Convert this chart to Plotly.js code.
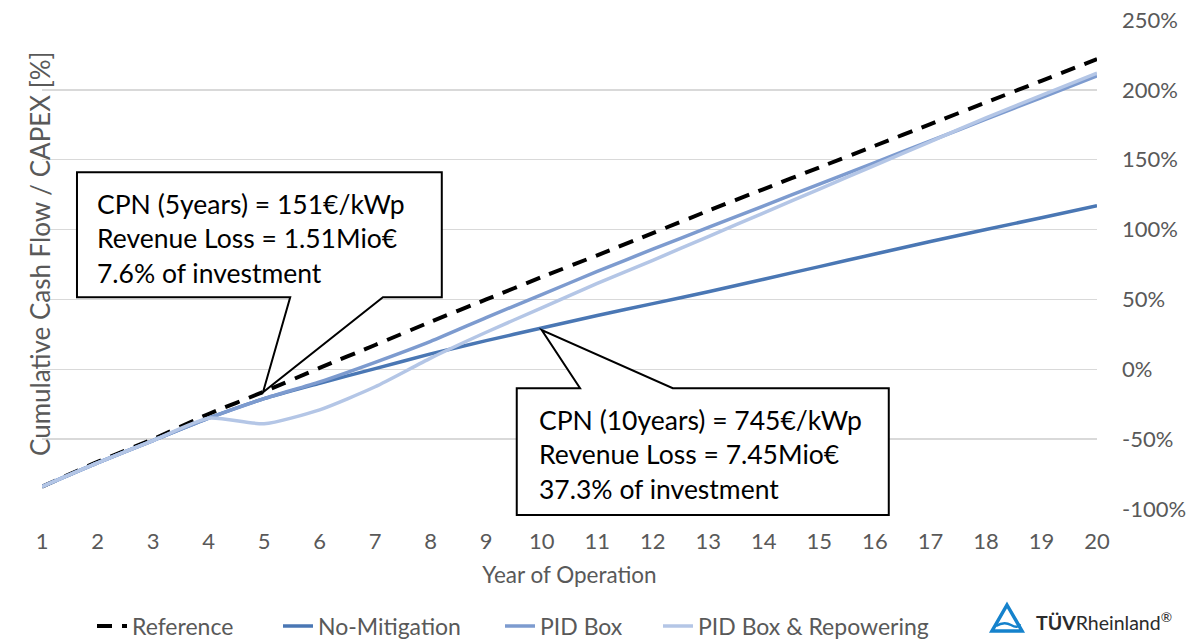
<!DOCTYPE html>
<html>
<head>
<meta charset="utf-8">
<script src="https://cdn.plot.ly/plotly-3.0.1.min.js"></script>
<style>html,body{margin:0;padding:0;background:#fff;}#chart{width:1192px;height:639px;}</style>
</head>
<body>
<div id="chart"></div>
<script>
// ---- data ----
const years = [1,2,3,4,5,6,7,8,9,10,11,12,13,14,15,16,17,18,19,20];
const reference     = [-84,-66.3,-50,-32,-16,1,17.4,34,50,66,81.6,97.5,113.5,129,144.5,160,175.5,191,206.5,222];
const noMitigation  = [-84,-67,-51,-35,-21,-10,0.5,11,20.5,29.5,38.5,47,55.5,64.5,73.5,82.5,91.5,100,108.5,117];
const pidBox        = [-84,-67,-51,-35,-21,-9,5,20,37,53.5,70,86,101.5,117,132.5,148,163.5,179,194.5,210];
const pidBoxRepower = [-84,-67,-51,-35,-39,-29,-12.5,8,26.5,44,61.5,78,95,112,129,146,163,180,196,212];
const seriesNames = ["Reference","No-Mitigation","PID Box","PID Box & Repowering"];
const yTickVals   = [-100,-50,0,50,100,150,200,250];
const yTickLabels = ["-100%","-50%","0%","50%","100%","150%","200%","250%"];
const callout1 = ["CPN (5years) = 151€/kWp","Revenue Loss = 1.51Mio€","7.6% of investment"];
const callout2 = ["CPN (10years) = 745€/kWp","Revenue Loss = 7.45Mio€","37.3% of investment"];

const FONT = "Lato, 'Noto Sans', sans-serif";
const GREY = "#595959";
const X0 = 1, X1 = 20, Y0 = -100, Y1 = 250;
// plot area in pixels
const L = 42, R = 1097, T = 20, B = 509;
const W = R - L, H = B - T;
const dx = x => (x - X0) / (X1 - X0);
const dy = y => (y - Y0) / (Y1 - Y0);
const pxX = p => (p - L) / W;
const pxY = p => (B - p) / H;

const traces = [
  {x: years, y: reference, name: seriesNames[0], mode: "lines", legend: "legend",
   line: {color: "#000000", width: 4, dash: "15px,10px", shape: "spline", smoothing: 0.6}},
  {x: years, y: noMitigation, name: seriesNames[1], mode: "lines", legend: "legend2",
   line: {color: "#4a77b4", width: 3.5, shape: "spline", smoothing: 0.6}},
  {x: years, y: pidBox, name: seriesNames[2], mode: "lines", legend: "legend3",
   line: {color: "#7d9bcf", width: 3.5, shape: "spline", smoothing: 0.6}},
  {x: years, y: pidBoxRepower, name: seriesNames[3], mode: "lines", legend: "legend4",
   line: {color: "#b4c6e6", width: 3.5, shape: "spline", smoothing: 0.6}}
];

function calloutPath(xl, xr, yt, yb, b1, b2, tx, ty, pointerSide) {
  const P = (x, y) => dx(x).toFixed(5) + "," + dy(y).toFixed(5);
  if (pointerSide === "bottom") {
    return "M" + P(xl, yt) + " L" + P(xr, yt) + " L" + P(xr, yb) + " L" + P(b2, yb) +
           " L" + P(tx, ty) + " L" + P(b1, yb) + " L" + P(xl, yb) + " Z";
  }
  return "M" + P(xl, yt) + " L" + P(b1, yt) + " L" + P(tx, ty) + " L" + P(b2, yt) +
         " L" + P(xr, yt) + " L" + P(xr, yb) + " L" + P(xl, yb) + " Z";
}
const shapes = [
  {type: "path", xref: "paper", yref: "paper",
   path: calloutPath(1.63, 8.20, 141, 51.5, 5.47, 7.14, 4.98, reference[4] - 0.5, "bottom"),
   fillcolor: "#ffffff", line: {color: "#000000", width: 2}, layer: "above"},
  {type: "path", xref: "paper", yref: "paper",
   path: calloutPath(9.55, 16.25, -13.6, -104.3, 10.69, 12.36, 10, noMitigation[9] - 1.5, "top"),
   fillcolor: "#ffffff", line: {color: "#000000", width: 2}, layer: "above"},
  {type: "path", xref: "paper", yref: "paper",
   path: "M" + pxX(1007) + "," + pxY(605) + " L" + pxX(1022) + "," + pxY(631) + " L" + pxX(992) + "," + pxY(631) + " Z",
   fillcolor: "rgba(0,0,0,0)", line: {color: "#1582cc", width: 3.5}},
  {type: "path", xref: "paper", yref: "paper",
   path: "M" + pxX(996) + "," + pxY(626) + " Q" + pxX(1004) + "," + pxY(621) + " " + pxX(1011) + "," + pxY(625) +
         " T" + pxX(1020) + "," + pxY(624),
   line: {color: "#1582cc", width: 2.5}}
];

const annotations = [
  {xref: "paper", yref: "paper", x: pxX(22), y: pxY(254), text: "Cumulative Cash Flow / CAPEX [%]",
   textangle: -90, showarrow: false, font: {family: FONT, size: 26, color: GREY}},
  {xref: "paper", yref: "paper", x: pxX(95), y: pxY(238), xanchor: "left", yanchor: "middle", align: "left",
   text: callout1.join("<br>"), showarrow: false, font: {family: FONT, size: 26.5, color: "#000"}},
  {xref: "paper", yref: "paper", x: pxX(537), y: pxY(454), xanchor: "left", yanchor: "middle", align: "left",
   text: callout2.join("<br>"), showarrow: false, font: {family: FONT, size: 26.5, color: "#000"}},
  {xref: "paper", yref: "paper", x: pxX(1034), y: pxY(621), xanchor: "left", yanchor: "middle",
   text: "<b>TÜV</b>Rheinland<sup>®</sup>", showarrow: false, font: {family: FONT, size: 19.5, color: "#2b2b2b"}}
];

function legendAt(textStartPx) {
  return {orientation: "h", x: (textStartPx - 41) / 1192, xref: "container", xanchor: "left",
          y: (639 - 626) / 639, yref: "container", yanchor: "middle",
          borderwidth: 0, bgcolor: "rgba(0,0,0,0)",
          font: {family: FONT, size: 23, color: GREY}};
}

const layout = {
  width: 1192, height: 639,
  margin: {l: L, r: 1192 - R, t: T, b: 639 - B, pad: 0, autoexpand: false},
  paper_bgcolor: "#fff", plot_bgcolor: "#fff",
  font: {family: FONT, color: GREY},
  showlegend: true,
  legend: legendAt(133),
  legend2: legendAt(319),
  legend3: legendAt(541),
  legend4: legendAt(699),
  xaxis: {range: [X0, X1], tickmode: "linear", tick0: 1, dtick: 1, showgrid: false, zeroline: false,
          showline: false, ticks: "", ticklabelstandoff: 17, automargin: false,
          tickfont: {family: FONT, size: 22, color: GREY},
          title: {text: "Year of Operation", font: {family: FONT, size: 22.5, color: GREY}, standoff: 14}},
  yaxis: {range: [Y0, Y1], side: "right", tickmode: "array", tickvals: yTickVals, ticktext: yTickLabels,
          showgrid: true, gridcolor: "#d9d9d9", gridwidth: 1.3, zeroline: false, showline: false, ticks: "",
          ticklabelstandoff: 24, automargin: false, tickfont: {family: FONT, size: 22, color: GREY}},
  shapes: shapes,
  annotations: annotations
};

Plotly.newPlot("chart", traces, layout, {displayModeBar: false, staticPlot: true});
</script>
</body>
</html>
